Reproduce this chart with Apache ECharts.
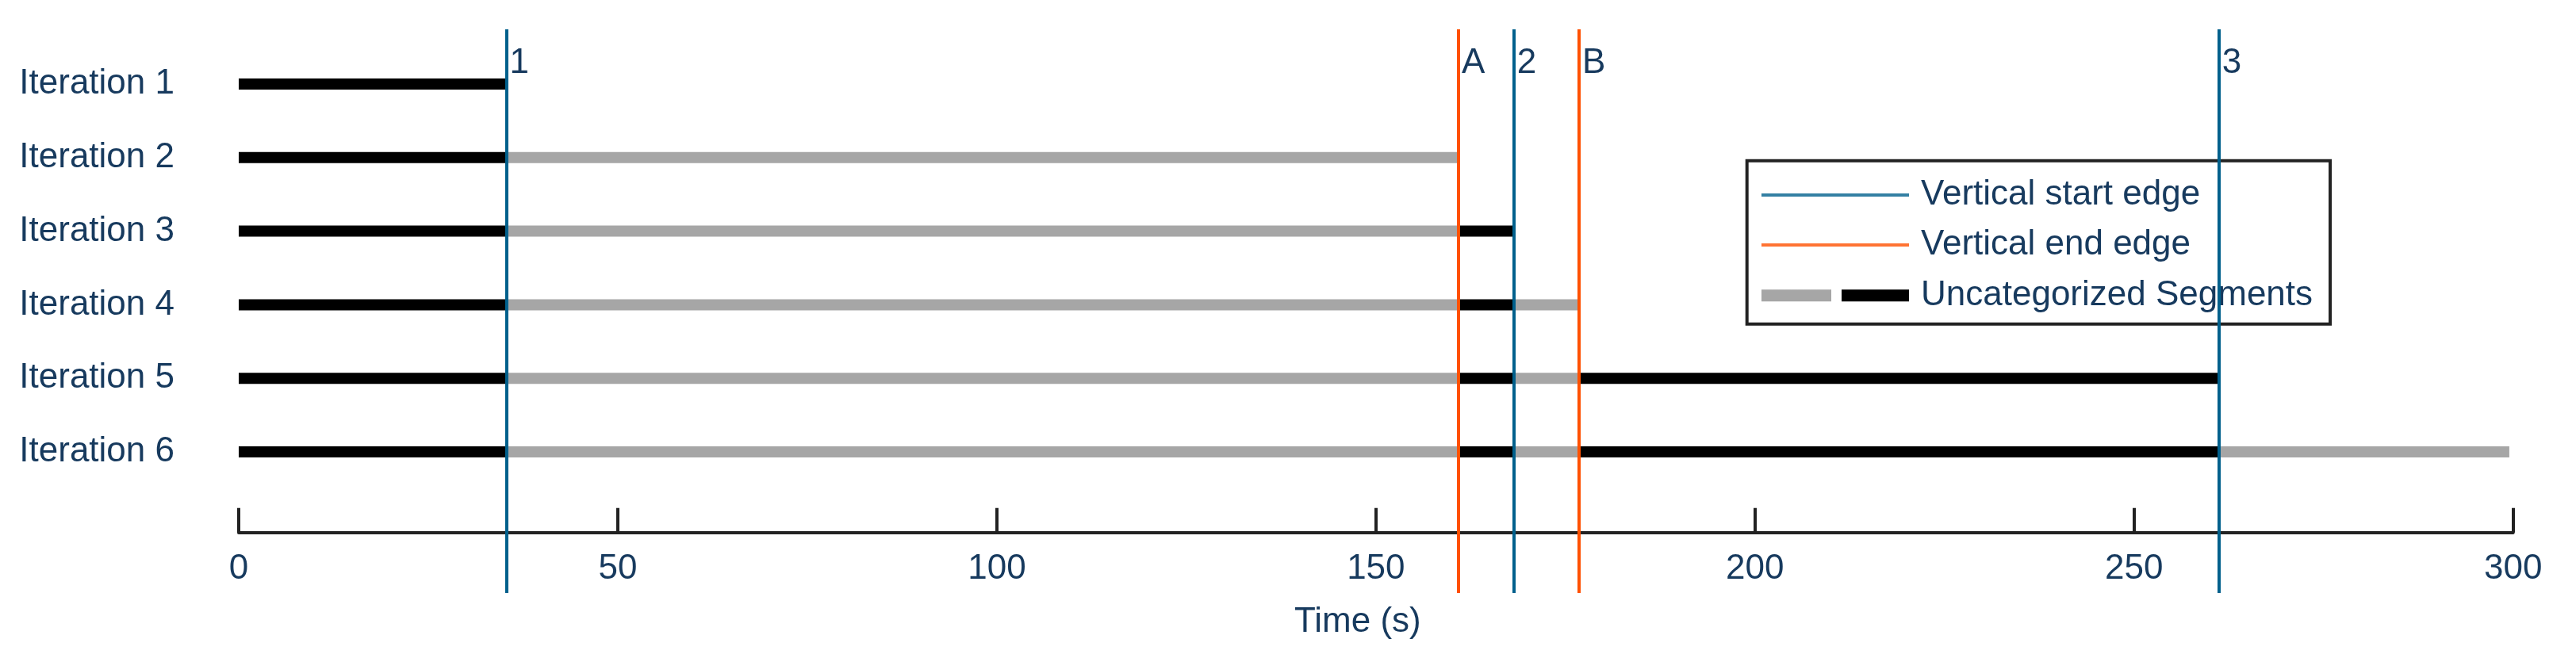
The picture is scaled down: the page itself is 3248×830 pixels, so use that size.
<!DOCTYPE html>
<html>
<head>
<meta charset="utf-8">
<script src="https://cdn.jsdelivr.net/npm/echarts@6/dist/echarts.min.js"></script>
<style>
  html, body { margin: 0; padding: 0; background: #fff; }
  #main { width: 3248px; height: 830px; }
</style>
</head>
<body>
<div id="main"></div>
<script>
// data
const iterations = ['Iteration 1', 'Iteration 2', 'Iteration 3', 'Iteration 4', 'Iteration 5', 'Iteration 6']
// end time (s) of each segment in a row, segments alternate black / grey starting at 0
const segmentEnds = [
    [35.3],
    [35.3, 160.9],
    [35.3, 160.9, 168.2],
    [35.3, 160.9, 168.2, 176.8],
    [35.3, 160.9, 168.2, 176.8, 261.2],
    [35.3, 160.9, 168.2, 176.8, 261.2, 299.5]
]
const startEdges = [35.3, 168.2, 261.2]
const startLabels = ['1', '2', '3']
const endEdges = [160.9, 176.8]
const endLabels = ['A', 'B']
const timeMin = 0
const timeMax = 300
const timeStep = 50

const FONT = 'Liberation Sans, Arial, sans-serif'
const TEXT = '#173a5e'
const AXIS = '#222222'
const BLUE = '#00608c'
const ORANGE = '#ff5000'
const GREY = '#a6a6a6'
const BLACK = '#000000'
const LABEL_Y = 0.94
const CLEAR = 'rgba(0,0,0,0)'

const lineIcon = (c) => ({
    type: 'linear', x: 0, y: 0, x2: 0, y2: 1,
    colorStops: [
        { offset: 0, color: CLEAR }, { offset: 0.367, color: CLEAR },
        { offset: 0.367, color: c }, { offset: 0.633, color: c },
        { offset: 0.633, color: CLEAR }, { offset: 1, color: CLEAR }
    ]
})
const segIcon = {
    type: 'linear', x: 0, y: 0, x2: 1, y2: 0,
    colorStops: [
        { offset: 0, color: GREY }, { offset: 0.473, color: GREY },
        { offset: 0.473, color: CLEAR }, { offset: 0.543, color: CLEAR },
        { offset: 0.543, color: BLACK }, { offset: 1, color: BLACK }
    ]
}

const nSeg = Math.max(...segmentEnds.map(e => e.length))
const barSeries = []
for (let k = 0; k < nSeg; k++) {
    barSeries.push({
        name: 'Uncategorized Segments',
        type: 'bar',
        stack: 'row',
        xAxisIndex: 0,
        yAxisIndex: 0,
        barWidth: 14,
        color: k % 2 === 0 ? BLACK : GREY,
        itemStyle: { color: k % 2 === 0 ? BLACK : GREY },
        data: segmentEnds.map(ends => k < ends.length ? ends[k] - (k ? ends[k - 1] : 0) : '-')
    })
}

const edgeSeries = (name, colour, edges, labels) => ({
    name: name,
    type: 'scatter',
    xAxisIndex: 1,
    yAxisIndex: 1,
    z: 5,
    color: colour,
    symbolSize: 0,
    data: edges.map((v, i) => [v, LABEL_Y, labels[i]]),
    label: {
        show: true,
        position: 'right',
        distance: 4,
        formatter: (p) => p.data[2],
        color: TEXT,
        opacity: 1,
        fontSize: 44,
        fontFamily: FONT
    },
    markLine: {
        silent: true,
        symbol: ['none', 'none'],
        label: { show: false },
        lineStyle: { color: colour, width: 4, type: 'solid', opacity: 1 },
        data: edges.map(v => ({ xAxis: v }))
    }
})

const chart = echarts.init(document.getElementById('main'))
const option = {
    animation: false,
    backgroundColor: '#ffffff',
    grid: [
        { left: 301, right: 79.3, top: 59.6, height: 556.8, containLabel: false, outerBoundsMode: 'none' },
        { left: 301, right: 79.3, top: 37, bottom: 82, containLabel: false, outerBoundsMode: 'none' }
    ],
    legend: {
        orient: 'vertical',
        left: 2202.7,
        top: 202.7,
        padding: [21, 22, 14, 18.3],
        borderColor: AXIS,
        borderWidth: 4,
        backgroundColor: '#ffffff',
        itemWidth: 186,
        itemHeight: 15,
        itemGap: 19.5,
        selectedMode: false,
        textStyle: {
            color: TEXT,
            fontSize: 44,
            lineHeight: 44,
            fontFamily: FONT,
            padding: [0, 0, 0, 10]
        },
        data: [
            { name: 'Vertical start edge', icon: 'rect', itemStyle: { color: lineIcon(BLUE), borderWidth: 0 } },
            { name: 'Vertical end edge', icon: 'rect', itemStyle: { color: lineIcon(ORANGE), borderWidth: 0 } },
            { name: 'Uncategorized Segments', icon: 'rect', itemStyle: { color: segIcon, borderWidth: 0 } }
        ]
    },
    xAxis: [
        {
            type: 'value',
            gridIndex: 0,
            min: timeMin,
            max: timeMax,
            interval: timeStep,
            offset: 55.3,
            splitLine: { show: false },
            axisLine: { show: true, onZero: false, lineStyle: { color: AXIS, width: 4 } },
            axisTick: { show: true, inside: true, length: 31, lineStyle: { color: AXIS, width: 4 } },
            axisLabel: { color: TEXT, fontSize: 44, fontFamily: FONT, margin: 24 },
            name: 'Time (s)',
            nameLocation: 'middle',
            nameGap: 91,
            nameTextStyle: { color: TEXT, fontSize: 44, fontFamily: FONT, padding: [0, 46, 0, 0] }
        },
        {
            type: 'value',
            gridIndex: 1,
            min: timeMin,
            max: timeMax,
            show: false
        }
    ],
    yAxis: [
        {
            type: 'category',
            gridIndex: 0,
            inverse: true,
            data: iterations,
            axisLine: { show: false },
            axisTick: { show: false },
            splitLine: { show: false },
            axisLabel: { color: TEXT, fontSize: 44, fontFamily: FONT, margin: 81 }
        },
        {
            type: 'value',
            gridIndex: 1,
            min: 0,
            max: 1,
            show: false
        }
    ],
    series: [
        ...barSeries,
        edgeSeries('Vertical start edge', BLUE, startEdges, startLabels),
        edgeSeries('Vertical end edge', ORANGE, endEdges, endLabels)
    ]
}
chart.setOption(option)
</script>
</body>
</html>
